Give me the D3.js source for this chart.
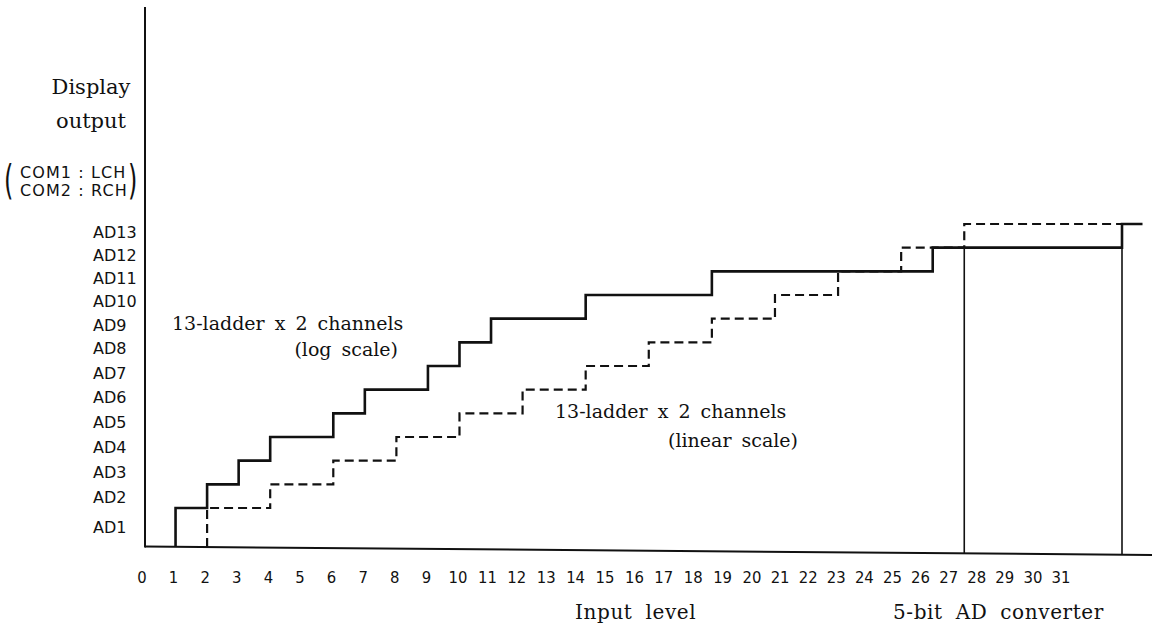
<!DOCTYPE html>
<html>
<head>
<meta charset="utf-8">
<script src="https://cdn.jsdelivr.net/npm/d3@7/dist/d3.min.js"></script>
<style>
  html, body { margin: 0; padding: 0; background: #fff; }
  svg { display: block; }
</style>
</head>
<body>
<div id="chart"></div>
<script>
// ---- data ----
const inputLevels = d3.range(0, 32);                       // x tick labels 0..31
const outputLabels = ["AD1","AD2","AD3","AD4","AD5","AD6","AD7","AD8","AD9","AD10","AD11","AD12","AD13"];
// log-scale ladder: input level at which each display output step begins
const logStepInputs = [1, 2, 3, 4, 6, 7, 9, 10, 11, 14, 18, 25, 31];
const logStepLevels = [1, 2, 3, 4, 5, 6, 7, 8, 9, 10, 11, 12, 13];
const logEndInput = 31.65;
// linear-scale ladder
const linStepInputs = [2, 4, 6, 8, 10, 12, 14, 16, 18, 20, 22, 24, 26];
const linStepLevels = [1, 2, 3, 4, 5, 6, 7, 8, 9, 10, 11, 12, 13];
const linEndInput = 31;
// 5-bit AD converter range markers
const converterInputs = [26, 31];
const converterTopLevel = 12;

// ---- layout ----
const W = 1153, H = 627;
const svg = d3.select("#chart").append("svg").attr("width", W).attr("height", H);
svg.append("rect").attr("width", W).attr("height", H).attr("fill", "#fff");

const ink = "#111";
const x = d3.scaleLinear().domain([0, 31]).range([144, 1122]);
const xLab = d3.scaleLinear().domain([0, 10, 20, 31]).range([142, 458, 752, 1061]);
const y = d3.scaleLinear().domain([1, 13]).range([508, 224]);
const yLab = d3.scaleLinear().domain([1, 2, 8, 13]).range([527, 497, 348, 232]);
// the hand-drawn baseline drifts slightly downward to the right
const base = d3.scaleLinear().domain([0, 32]).range([546.5, 555]);

// axes
svg.append("line").attr("x1", 145).attr("y1", 7).attr("x2", 145).attr("y2", base(0) + 1)
  .attr("stroke", ink).attr("stroke-width", 2);
svg.append("line").attr("x1", 145).attr("y1", base(0)).attr("x2", 1152).attr("y2", base(31.85))
  .attr("stroke", ink).attr("stroke-width", 2);

// x tick labels
svg.append("g").selectAll("text").data(inputLevels).join("text")
  .attr("x", d => xLab(d)).attr("y", 583)
  .attr("text-anchor", "middle")
  .attr("font-family", "'Liberation Sans Narrow','DejaVu Sans Condensed','Liberation Sans',sans-serif")
  .attr("font-size", 16.5).attr("fill", ink)
  .text(d => d);

// y labels
svg.append("g").selectAll("text").data(outputLabels).join("text")
  .attr("x", 93).attr("y", (d, i) => yLab(i + 1))
  .attr("dy", "0.36em")
  .attr("font-family", "'DejaVu Sans',sans-serif")
  .attr("font-size", 16).attr("fill", ink)
  .text(d => d);

// step paths
const line = d3.line().x(d => d[0]).y(d => d[1]).curve(d3.curveStepAfter);
function stepPoints(inputs, levels, endInput) {
  const pts = [[x(inputs[0]), base(inputs[0])]];
  inputs.forEach((v, i) => pts.push([x(v), y(levels[i])]));
  pts.push([x(endInput), y(levels[levels.length - 1])]);
  return pts;
}

// converter markers (thin)
svg.append("g").selectAll("line").data(converterInputs).join("line")
  .attr("x1", d => x(d)).attr("x2", d => x(d))
  .attr("y1", d => base(d)).attr("y2", y(converterTopLevel))
  .attr("stroke", ink).attr("stroke-width", 1.6);

svg.append("path").attr("d", line(stepPoints(linStepInputs, linStepLevels, linEndInput)))
  .attr("fill", "none").attr("stroke", ink).attr("stroke-width", 2.2)
  .attr("stroke-dasharray", "9,5");

svg.append("path").attr("d", line(stepPoints(logStepInputs, logStepLevels, logEndInput)))
  .attr("fill", "none").attr("stroke", ink).attr("stroke-width", 2.6);

// text annotations
const serif = "'DejaVu Serif',serif";
function txt(t, xx, yy, size, anchor, extra) {
  const el = svg.append("text").attr("x", xx).attr("y", yy)
    .attr("font-family", serif).attr("font-size", size).attr("fill", ink)
    .attr("text-anchor", anchor || "start").attr("dy", "0.35em").text(t);
  if (extra) extra(el);
  return el;
}
txt("Display", 91, 87, 21, "middle");
txt("output", 91, 121, 21, "middle");

const sans = "'DejaVu Sans',sans-serif";
svg.append("text").attr("x", 20).attr("y", 172).attr("dy", "0.36em")
  .attr("font-family", sans).attr("font-size", 16).attr("letter-spacing", 1.1).attr("fill", ink)
  .text("COM1 : LCH");
svg.append("text").attr("x", 20).attr("y", 190).attr("dy", "0.36em")
  .attr("font-family", sans).attr("font-size", 16).attr("letter-spacing", 1.1).attr("fill", ink)
  .text("COM2 : RCH");
svg.append("text").attr("transform", "translate(4,194) scale(0.6,1)")
  .attr("font-family", sans).attr("font-size", 40).attr("fill", ink).text("(");
svg.append("text").attr("transform", "translate(128,194) scale(0.6,1)")
  .attr("font-family", sans).attr("font-size", 40).attr("fill", ink).text(")");

const ws = el => el.attr("word-spacing", 4);
txt("13-ladder x 2 channels", 172, 323, 19, "start", ws);
txt("(log scale)", 398, 349, 19, "end", ws);
txt("13-ladder x 2 channels", 555, 411, 19, "start", ws);
txt("(linear scale)", 798, 440, 19, "end", ws);

const ws2 = el => el.attr("word-spacing", 6).attr("letter-spacing", 0.6);
txt("Input level", 575, 612, 20, "start", ws2);
txt("5-bit AD converter", 893, 612, 20, "start", ws2);
</script>
</body>
</html>
